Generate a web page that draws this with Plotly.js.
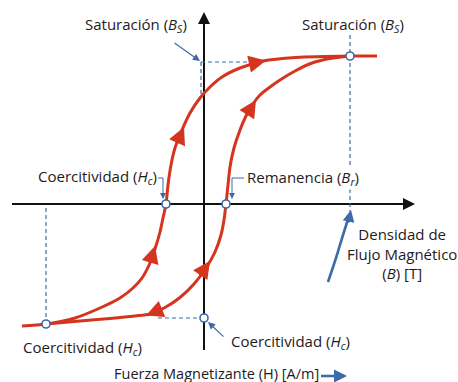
<!DOCTYPE html>
<html>
<head>
<meta charset="utf-8">
<script src="https://cdn.plot.ly/plotly-3.0.1.min.js"></script>
<style>html,body{margin:0;padding:0;background:#fff;}#chart{width:458px;height:382px;}</style>
</head>
<body>
<div id="chart"></div>
<script>
// Ascending branch (passes through -Hc)
const hUpper = [-18.2,-15.8,-12.9,-10.4,-8.4,-7.1,-6.2,-5.4,-4.9,-4.4,-4.1,-3.8,-3.6,-3.3,-2.9,-2.2,-1.4,-0.4,0.6,1.8,3.6,5.9,9.2,14.6,17.3];
const bUpper = [-12.2,-12.0,-11.4,-10.4,-9.4,-8.4,-7.4,-5.9,-4.5,-2.8,-1.4,0,1.9,3.9,5.6,7.4,9.1,10.6,11.7,12.7,13.6,14.3,14.65,14.8,14.8];
// Second branch (passes through Br point)
const hLower = [-15.8,-12.4,-9.4,-6.9,-5.4,-3.9,-2.4,-1.0,0.2,1.1,1.7,2.0,2.2,2.4,2.6,3.0,3.6,4.2,4.9,5.6,6.6,7.6,9.1,10.8,12.6,14.6];
const bLower = [-12.0,-11.7,-11.45,-11.2,-11.0,-10.35,-9.35,-8.0,-6.4,-4.8,-3.1,-1.6,0,1.9,3.7,5.6,7.4,8.8,10.0,10.9,11.7,12.4,13.3,14.1,14.55,14.8];
// Marked points: -Hc, Br, Bs, -Hc(bottom-left), Hc(on B axis)
const hPoints = [-3.8, 2.2, 14.6, -15.8, 0.0];
const bPoints = [0, 0, 14.8, -12.0, -11.4];
// Dashed guide lines
const hGuides = [-0.3,-0.3,null,-0.3,5.6,null,14.6,14.6,null,-15.8,-15.8,null,-4.6,0];
const bGuides = [14.2,10.6,null,14.2,14.2,null,16.9,-0.8,null,-0.4,-12.0,null,-11.4,-11.4];
// Direction arrows on the loop: [tailH, tailB, headH, headB]
const loopArrows = [
  [-5.4,-5.9,-4.9,-4.2],
  [-2.7,6.1,-2.0,7.7],
  [4.6,14.0,6.2,14.35],
  [4.2,8.8,5.2,10.4],
  [-0.5,-7.3,0.6,-5.7],
  [-4.2,-10.5,-5.8,-11.15]
];
// Big blue pointer curve
const hPointer = [12.4,13.2,13.9,14.5];
const bPointer = [-7.8,-5.4,-3.1,-1.2];

const RED = '#d5341f', BLUE = '#3d6aa8', INK = '#1e1b1c';
const FONT = 'Open Sans, sans-serif';
const FS = 15;

const traces = [
  {x:[0,0], y:[-14.6,18.6], mode:'lines', line:{color:'#111',width:2}, hoverinfo:'skip'},
  {x:[-19.2,20.6], y:[0,0], mode:'lines', line:{color:'#111',width:2}, hoverinfo:'skip'},
  {x:hGuides, y:bGuides, mode:'lines', line:{color:BLUE,width:1.2,dash:'4px,3px'}, connectgaps:false, hoverinfo:'skip'},
  {x:hUpper, y:bUpper, mode:'lines', line:{color:RED,width:3,shape:'spline',smoothing:0.8}, hoverinfo:'skip'},
  {x:hLower, y:bLower, mode:'lines', line:{color:RED,width:3,shape:'spline',smoothing:0.8}, hoverinfo:'skip'},
  {x:hPointer, y:bPointer, mode:'lines', line:{color:BLUE,width:2.6,shape:'spline'}, hoverinfo:'skip'},
  {x:[-4.6,-4.1,-4.1,null,4.0,2.8,2.8], y:[2.6,2.6,1.0,null,2.6,2.6,1.0], mode:'lines', line:{color:BLUE,width:1}, hoverinfo:'skip'},
  {x:[11.7,13.6], y:[-17.2,-17.2], mode:'lines', line:{color:BLUE,width:2.6}, hoverinfo:'skip'},
  {x:hPoints, y:bPoints, mode:'markers', marker:{color:'#fff',size:8,line:{color:BLUE,width:1.6}}, hoverinfo:'skip'}
];

function arrow(tx,ty,hx,hy,color,width,size,head){
  return {x:hx,y:hy,ax:tx,ay:ty,xref:'x',yref:'y',axref:'x',ayref:'y',text:'',showarrow:true,
          arrowhead:head||2,arrowsize:size,arrowwidth:width,arrowcolor:color,standoff:0,startstandoff:0};
}
function label(x,y,text,xanchor,size,bg){
  return {x:x,y:y,xref:'x',yref:'y',text:text,showarrow:false,xanchor:xanchor||'center',yanchor:'middle',
          bgcolor:bg||'rgba(0,0,0,0)',borderpad:0,
          font:{family:FONT,size:size||FS,color:INK}};
}

const annotations = [
  arrow(0,17.0,0,19.2,'#111',2,1.2),
  arrow(19.0,0,21.1,0,'#111',2,1.2),
  ...loopArrows.map(a=>arrow(a[0],a[1],a[2],a[3],RED,3,1.15)),
  arrow(-3.1,16.2,-0.4,14.3,BLUE,1.2,1.2),
  arrow(2.1,-13.4,0.4,-11.8,BLUE,1.2,1.2),
  arrow(14.4,-2.0,14.7,-0.6,BLUE,2.6,0.9),
  arrow(-4.1,1.2,-4.1,0.5,BLUE,1,1.2),
  arrow(2.8,1.2,2.8,0.5,BLUE,1,1.2),
  arrow(13.0,-17.2,14.3,-17.2,BLUE,2.6,1.0),
  label(-6.8,17.9,'Saturación (<i>B<sub>S</sub></i>)'),
  label(14.9,17.9,'Saturación (<i>B<sub>S</sub></i>)'),
  label(-4.6,2.7,'Coercitividad (<i>H<sub>c</sub></i>)','right'),
  label(4.2,2.6,'Remanencia (<i>B<sub>r</sub></i>)','left',FS,'#ffffff'),
  label(19.8,-4.9,'Densidad de<br>Flujo Magnético<br>(<i>B</i>) [T]','center'),
  label(-12.2,-14.4,'Coercitividad (<i>H<sub>c</sub></i>)'),
  label(8.6,-13.8,'Coercitividad (<i>H<sub>c</sub></i>)'),
  label(-9.1,-16.9,'Fuerza Magnetizante (H) [A/m]','left',14.5)
];

const layout = {
  width:458, height:382, margin:{l:0,r:0,t:0,b:0},
  paper_bgcolor:'#fff', plot_bgcolor:'#fff', showlegend:false,
  xaxis:{range:[-20.4,25.4], visible:false, fixedrange:true},
  yaxis:{range:[-17.8,20.4], visible:false, fixedrange:true},
  annotations:annotations
};
Plotly.newPlot('chart', traces, layout, {displayModeBar:false, staticPlot:true});
</script>
</body>
</html>
